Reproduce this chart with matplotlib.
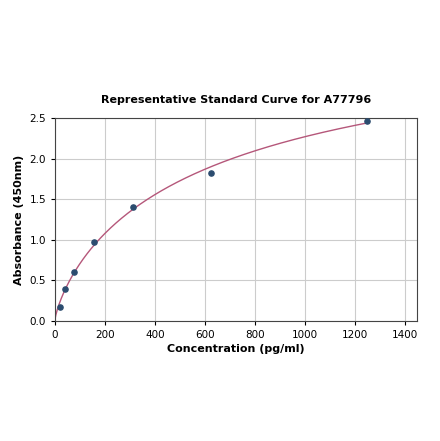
import matplotlib
matplotlib.use("Agg")
import matplotlib.pyplot as plt
import numpy as np

# Standard points.
conc = np.array([19.5, 39, 78, 156, 312, 625, 1250])
absorb = np.array([0.17, 0.39, 0.60, 0.97, 1.41, 1.83, 2.47])
y_at_zero = 0.02  # curve start


def four_pl(x, p):
    b, c, d = p
    a = y_at_zero
    return d + (a - d) / (1.0 + (np.maximum(x, 1e-9) / c) ** b)


# Simple Levenberg-Marquardt fit of a 4PL curve to the standards.
p = np.array([0.8, 600.0, 4.0])
lam = 1e-2
for _ in range(2000):
    r = absorb - four_pl(conc, p)
    J = np.empty((len(conc), 3))
    for k in range(3):
        dp = np.zeros(3)
        dp[k] = 1e-6 * max(abs(p[k]), 1.0)
        J[:, k] = (four_pl(conc, p + dp) - four_pl(conc, p)) / dp[k]
    A = J.T @ J
    step = np.linalg.solve(A + lam * np.diag(np.diag(A)), J.T @ r)
    p_new = p + step
    if p_new[1] > 0 and np.sum((absorb - four_pl(conc, p_new)) ** 2) < np.sum(r ** 2):
        p = p_new
        lam *= 0.5
    else:
        lam *= 3.0

xfit = np.linspace(0, conc.max(), 400)
yfit = four_pl(xfit, p)

fig = plt.figure(figsize=(4.4, 4.41), dpi=100)
ax = fig.add_axes([0.125, 0.272, 0.823, 0.46])
ax.plot(xfit, yfit, color="#b5577a", lw=1.0, zorder=2)
ax.scatter(conc, absorb, s=14, color="#2b4c6f", zorder=3)

ax.set_xlim(0, 1450)
ax.set_ylim(0, 2.5)
ax.set_xticks(np.arange(0, 1401, 200))
ax.set_yticks(np.arange(0, 2.51, 0.5))
ax.tick_params(labelsize=7.5, length=3)
ax.grid(True, color="#cccccc", lw=0.8)
ax.set_axisbelow(True)
for s in ax.spines.values():
    s.set_color("#444444")
    s.set_linewidth(0.8)

ax.set_title("Representative Standard Curve for A77796", fontsize=8,
             fontweight="bold", pad=11)
ax.set_xlabel("Concentration (pg/ml)", fontsize=8, fontweight="bold", labelpad=3)
ax.set_ylabel("Absorbance (450nm)", fontsize=8, fontweight="bold", labelpad=4)

fig.savefig("out.png", dpi=100)
